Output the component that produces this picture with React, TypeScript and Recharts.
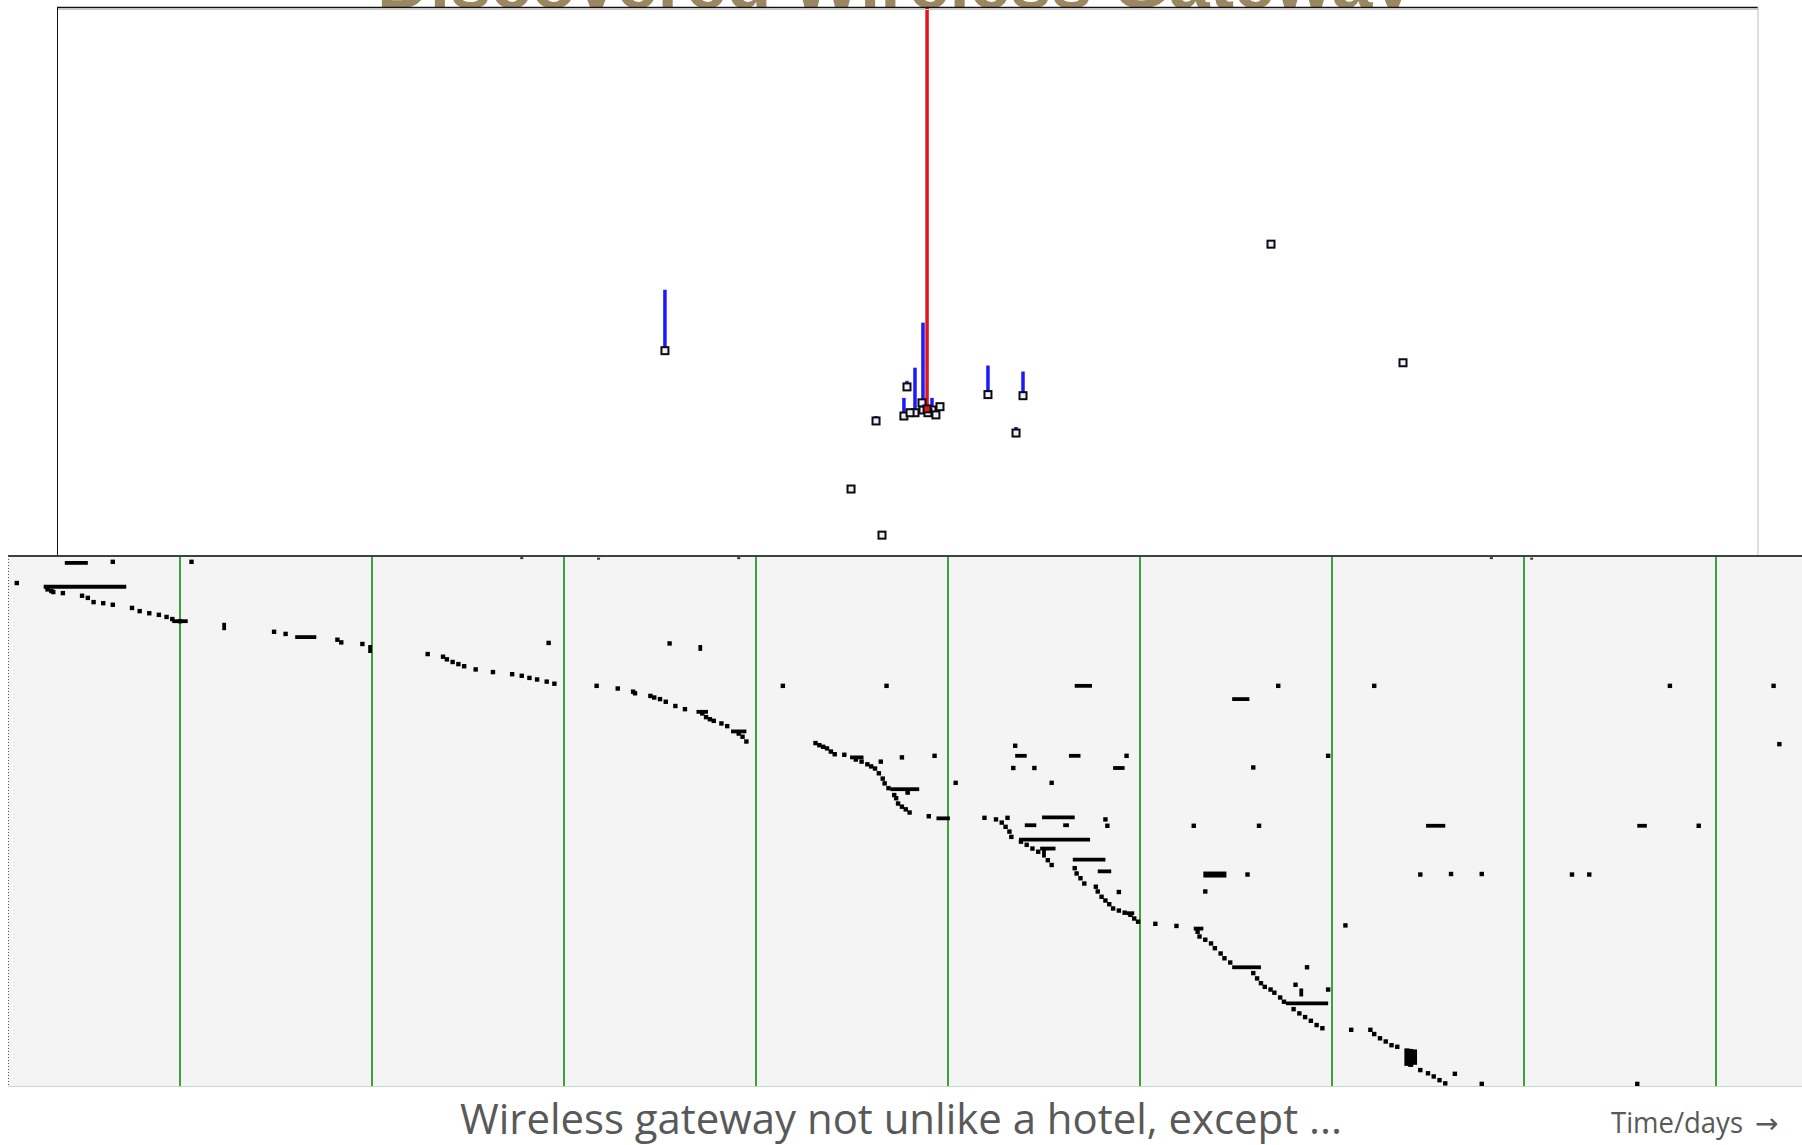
import React from 'react';
import { ScatterChart, Scatter, XAxis, YAxis, ErrorBar, ReferenceLine } from 'recharts';

const PAGE_W = 1802;
const PAGE_H = 1145;

// ---------- upper panel: where the gateways were discovered (map units 0-100) ----------
// x, y = location; reach = length of the signal stem drawn upwards from the site
const gatewaySites = [
  { x: 35.74, y: 37.4, reach: 11.1 },
  { x: 46.68, y: 12.2, reach: 0 },
  { x: 48.5, y: 3.8, reach: 0 },
  { x: 48.15, y: 24.6, reach: 0.9 },
  { x: 49.79, y: 25.5, reach: 3.3 },
  { x: 49.97, y: 30.8, reach: 1.1 },
  { x: 50.44, y: 26.1, reach: 8.2 },
  { x: 50.91, y: 26.6, reach: 15.9 },
  { x: 50.85, y: 27.9, reach: 0 },
  { x: 51.44, y: 26.6, reach: 2.2 },
  { x: 50.15, y: 26.1, reach: 0 },
  { x: 51.2, y: 26.1, reach: 0 },
  { x: 51.67, y: 25.7, reach: 0 },
  { x: 51.91, y: 27.2, reach: 0 },
  { x: 54.73, y: 29.4, reach: 5.3 },
  { x: 56.79, y: 29.2, reach: 4.4 },
  { x: 56.38, y: 22.4, reach: 1.1 },
  { x: 71.37, y: 56.8, reach: 0 },
  { x: 79.13, y: 35.2, reach: 0 },
];
const anchorGateway = [{ x: 51.15, y: 26.8, reach: 73.2 }];

// ---------- lower panel: client sightings over time ----------
const dayMarks = [1, 2, 3, 4, 5, 6, 7, 8, 9];

// [day, client] — faint marks along the top edge
const edgeMarks: [number, number][] = [
  [2.78, 0.4], [3.18, 0.5], [3.91, 0.4], [7.83, 0.4], [8.04, 0.5],
];

// [day, client] — single sightings
const sightings: [number, number][] = [
  // day 0-1
  [0.65, 1.1], [0.15, 5.1], [1.06, 1.1], [0.31, 6.3], [0.33, 6.6],
  [0.34, 6.8], [0.39, 7.0], [0.49, 7.5], [0.52, 7.9], [0.55, 8.7], [0.6, 8.9],
  [0.65, 9.2], [0.75, 9.8], [0.79, 10.4], [0.84, 10.8], [0.89, 11.1], [0.93, 11.5],
  [0.96, 11.9], [1.0, 12.3],
  // day 1-2
  [1.49, 14.3], [1.55, 14.7], [1.82, 15.8], [1.84, 16.3], [1.95, 16.6],
  // day 2-3
  [2.29, 18.5], [2.37, 19.0], [2.39, 19.5], [2.42, 20.0], [2.45, 20.4], [2.48, 20.8],
  [2.54, 21.4], [2.63, 21.9], [2.73, 22.3], [2.78, 22.6], [2.82, 23.0], [2.86, 23.3],
  [2.91, 23.7], [2.95, 24.1], [2.92, 16.4],
  // day 3-4
  [3.17, 24.5], [3.28, 25.0], [3.36, 25.6], [3.37, 25.9], [3.45, 26.4], [3.47, 26.7],
  [3.5, 27.0], [3.53, 27.5], [3.58, 28.3], [3.63, 28.9], [3.72, 29.7], [3.74, 30.4],
  [3.76, 30.8], [3.78, 31.1], [3.82, 31.6], [3.85, 32.1], [3.91, 33.5], [3.93, 34.1],
  [3.95, 35.0], [3.55, 16.5],
  // day 4-5
  [4.14, 24.5], [4.68, 24.5], [4.31, 35.3], [4.33, 35.7], [4.35, 36.0], [4.37, 36.3],
  [4.39, 36.9], [4.41, 37.4], [4.46, 37.5], [4.52, 38.4], [4.55, 38.8], [4.58, 39.3],
  [4.6, 39.7], [4.62, 40.1], [4.64, 41.0], [4.66, 42.0], [4.67, 42.9], [4.69, 43.8],
  [4.72, 45.1], [4.73, 45.7], [4.74, 46.7], [4.76, 47.3], [4.78, 47.8], [4.8, 48.4],
  [4.9, 49.1], [4.76, 38.0], [4.93, 37.7], [4.65, 38.8], [4.79, 44.6],
  // day 5-6
  [5.04, 42.8], [5.35, 35.8], [5.93, 37.7], [5.34, 40.0], [5.45, 40.0], [5.54, 42.8],
  [5.19, 49.4], [5.31, 49.4], [5.82, 49.7], [5.83, 50.9], [5.89, 63.4],
  [5.25, 49.7], [5.28, 50.3], [5.3, 51.1], [5.32, 52.0], [5.33, 53.0], [5.38, 53.9],
  [5.41, 54.5], [5.44, 55.2], [5.47, 55.8], [5.52, 57.4], [5.54, 58.3],
  [5.66, 58.9], [5.67, 59.9], [5.69, 60.8], [5.71, 61.8], [5.77, 62.4], [5.78, 63.3],
  [5.8, 64.3], [5.82, 65.0], [5.84, 65.7], [5.86, 66.5], [5.89, 66.9], [5.92, 67.3],
  [5.95, 67.7], [5.97, 68.4], [5.99, 69.0],
  // day 6-7
  [6.08, 69.4], [6.19, 69.8], [6.28, 50.9], [6.62, 50.9], [6.56, 60.1], [6.34, 63.3],
  [6.98, 37.7], [6.59, 39.9], [6.87, 77.6], [6.81, 80.9], [6.98, 81.8], [6.72, 24.5],
  [6.3, 70.9], [6.31, 71.8], [6.34, 72.4], [6.37, 73.1], [6.39, 74.0], [6.42, 75.0],
  [6.44, 75.9], [6.47, 76.7], [6.59, 78.7], [6.61, 79.7], [6.63, 80.6], [6.65, 81.3],
  [6.68, 81.8], [6.7, 82.4], [6.73, 83.3], [6.75, 84.1], [6.8, 85.5], [6.83, 86.3],
  [6.86, 87.0], [6.89, 87.7], [6.92, 88.5], [6.95, 89.1],
  // day 7 onwards
  [7.07, 69.7], [7.1, 89.4], [7.2, 89.4], [7.22, 90.2], [7.25, 91.0], [7.28, 91.6],
  [7.31, 92.3], [7.34, 92.6], [7.46, 97.0], [7.5, 97.6], [7.53, 98.2], [7.56, 98.9],
  [7.59, 99.5], [7.64, 97.7], [7.78, 99.6], [8.59, 99.6], [7.22, 24.5], [8.76, 24.5],
  [9.3, 24.5], [9.33, 35.5], [8.91, 50.9], [7.46, 60.1], [7.62, 60.0], [7.78, 60.0],
  [8.25, 60.1], [8.34, 60.1],
];

// [fromDay, toDay, client] — continuous stays
const stays: [number, number, number][] = [
  [0.4, 0.52, 1.3], [0.29, 0.72, 5.8], [0.96, 1.04, 12.3], [1.6, 1.71, 15.3],
  [3.69, 3.75, 29.4], [3.87, 3.95, 33.1], [4.49, 4.56, 38.0], [4.7, 4.85, 44.0],
  [4.94, 5.01, 49.5], [5.66, 5.75, 24.5], [5.35, 5.41, 37.7], [5.63, 5.69, 37.7],
  [5.86, 5.92, 40.0], [5.49, 5.66, 49.3], [5.4, 5.46, 50.8], [5.6, 5.63, 50.8],
  [5.37, 5.74, 53.5], [5.48, 5.56, 55.2], [5.65, 5.82, 57.3], [5.78, 5.85, 59.5],
  [5.93, 5.97, 67.4], [6.48, 6.57, 27.0], [6.48, 6.63, 77.6], [6.76, 6.98, 84.4],
  [6.28, 6.33, 70.3], [7.49, 7.59, 50.9], [8.59, 8.64, 50.9],
];

// [fromDay, toDay, client] — stays seen on two adjacent clients
const heavyStays: [number, number, number][] = [
  [6.33, 6.45, 60.1],
];

// [day, fromClient, toClient] — bursts spanning several clients
const bursts: [number, number, number][] = [
  [1.23, 12.6, 14.0], [1.99, 16.8, 18.3], [3.71, 16.8, 17.9], [5.5, 55.4, 56.9],
  [6.84, 81.6, 83.1], [4.79, 44.3, 45.0],
];
const crowdBursts: [number, number, number][] = [
  [7.39, 92.9, 96.2], [7.41, 93.0, 96.4], [7.43, 93.1, 96.0],
];

const sightingRows = sightings.map(([day, client]) => ({ day, client }));
const edgeRows = edgeMarks.map(([day, client]) => ({ day, client }));
const stayRows = stays.map(([from, to, client]) => ({ day: from, client, span: [0, to - from] }));
const heavyRows = heavyStays.map(([from, to, client]) => ({ day: from, client, span: [0, to - from] }));
const burstRows = bursts.map(([day, from, to]) => ({ day, client: from, span: [0, to - from] }));
const crowdRows = crowdBursts.map(([day, from, to]) => ({ day, client: from, span: [0, to - from] }));

// ---------- shapes ----------
const siteSquare = (p: any) => (
  <rect x={p.cx - 3.5} y={p.cy - 3.5} width={7} height={7} fill="#eef0ff" stroke="#0c0c0c" strokeWidth={2} />
);
const anchorSquare = (p: any) => (
  <rect x={p.cx - 3.5} y={p.cy - 3.5} width={7} height={7} fill="#e3151b" stroke="#0c0c0c" strokeWidth={2} />
);
const blackDot = (p: any) => <rect x={p.cx - 2.2} y={p.cy - 2.2} width={4.4} height={4.4} fill="#000000" />;
const edgeDot = (p: any) => <rect x={p.cx - 1.5} y={p.cy - 1} width={3} height={2} fill="#333333" />;
const noMark = () => <g />;

const TOP = { left: 57, top: 7, width: 1701, height: 549 };
const BOTTOM = { left: 8, top: 556, width: 1794, height: 530 };

const TopPanel = () => (
  <ScatterChart width={TOP.width} height={TOP.height} margin={{ top: 0, right: 0, bottom: 0, left: 0 }}>
    <XAxis type="number" dataKey="x" domain={[0, 100]} allowDataOverflow hide />
    <YAxis type="number" dataKey="y" domain={[0, 100]} allowDataOverflow hide />
    <Scatter data={gatewaySites} shape={siteSquare} isAnimationActive={false}>
      <ErrorBar dataKey={(d: any) => [0, d.reach]} direction="y" width={0} stroke="#1a1aff" strokeWidth={3.5} />
    </Scatter>
    <Scatter data={anchorGateway} shape={anchorSquare} isAnimationActive={false}>
      <ErrorBar dataKey={(d: any) => [0, d.reach]} direction="y" width={0} stroke="#e3151b" strokeWidth={3.5} />
    </Scatter>
  </ScatterChart>
);

const BottomPanel = () => (
  <ScatterChart width={BOTTOM.width} height={BOTTOM.height} margin={{ top: 0, right: 0, bottom: 0, left: 0 }}>
    <XAxis type="number" dataKey="day" domain={[0.1042, 9.448]} allowDataOverflow hide />
    <YAxis type="number" dataKey="client" domain={[0, 100]} reversed allowDataOverflow hide />
    {dayMarks.map((d) => (
      <ReferenceLine key={d} x={d} stroke="#3f9f3f" strokeWidth={2} />
    ))}
    <Scatter data={edgeRows} shape={edgeDot} isAnimationActive={false} />
    <Scatter data={stayRows} shape={noMark} isAnimationActive={false}>
      <ErrorBar dataKey="span" direction="x" width={0} stroke="#000000" strokeWidth={3.8} />
    </Scatter>
    <Scatter data={heavyRows} shape={noMark} isAnimationActive={false}>
      <ErrorBar dataKey="span" direction="x" width={0} stroke="#000000" strokeWidth={6} />
    </Scatter>
    <Scatter data={burstRows} shape={noMark} isAnimationActive={false}>
      <ErrorBar dataKey="span" direction="y" width={0} stroke="#000000" strokeWidth={3.8} />
    </Scatter>
    <Scatter data={crowdRows} shape={noMark} isAnimationActive={false}>
      <ErrorBar dataKey="span" direction="y" width={0} stroke="#000000" strokeWidth={5} />
    </Scatter>
    <Scatter data={sightingRows} shape={blackDot} isAnimationActive={false} />
  </ScatterChart>
);

export default function App() {
  return (
    <div
      style={{
        position: 'absolute',
        left: 0,
        top: 0,
        width: PAGE_W,
        height: PAGE_H,
        background: '#ffffff',
        overflow: 'hidden',
      }}
    >
      {/* slide heading, mostly hidden behind the upper panel */}
      <svg width={PAGE_W} height={PAGE_H} style={{ position: 'absolute', left: 0, top: 0 }}>
        <text
          x={895}
          y={8}
          textAnchor="middle"
          fontFamily="'Liberation Sans', Arial, sans-serif"
          fontWeight="bold"
          fontSize={70}
          fill="#9a8660"
          textLength={1036}
          lengthAdjust="spacingAndGlyphs"
        >
          Discovered Wireless Gateway
        </text>
      </svg>

      <div
        style={{
          position: 'absolute',
          left: TOP.left,
          top: TOP.top,
          width: TOP.width,
          height: TOP.height,
          background: '#ffffff',
        }}
      >
        <TopPanel />
      </div>

      <div
        style={{
          position: 'absolute',
          left: BOTTOM.left,
          top: BOTTOM.top,
          width: BOTTOM.width,
          height: BOTTOM.height,
          background: '#f4f4f4',
        }}
      >
        <BottomPanel />
      </div>

      {/* panel frames and captions */}
      <svg width={PAGE_W} height={PAGE_H} style={{ position: 'absolute', left: 0, top: 0, pointerEvents: 'none' }}>
        <line x1={TOP.left} y1={7.5} x2={TOP.left + TOP.width} y2={7.5} stroke="#111111" strokeWidth={1.5} />
        <line x1={TOP.left} y1={9.5} x2={TOP.left + TOP.width} y2={9.5} stroke="#c8c8c8" strokeWidth={1} />
        <line x1={TOP.left + 0.5} y1={7} x2={TOP.left + 0.5} y2={556} stroke="#111111" strokeWidth={1} />
        <line x1={TOP.left + TOP.width} y1={7} x2={TOP.left + TOP.width} y2={556} stroke="#bdbdbd" strokeWidth={1} />
        <line x1={BOTTOM.left} y1={556} x2={PAGE_W} y2={556} stroke="#404040" strokeWidth={2} />
        <line x1={BOTTOM.left + 0.5} y1={556} x2={BOTTOM.left + 0.5} y2={1086} stroke="#555555" strokeWidth={1} strokeDasharray="1 2" />
        <line x1={BOTTOM.left} y1={1086.5} x2={PAGE_W} y2={1086.5} stroke="#cfcfcf" strokeWidth={1} />
        <text
          x={901}
          y={1134}
          textAnchor="middle"
          fontFamily="'Open Sans', sans-serif"
          fontSize={42}
          fill="#595959"
          textLength={882}
          lengthAdjust="spacingAndGlyphs"
        >
          Wireless gateway not unlike a hotel, except ...
        </text>
        <text
          x={1611}
          y={1133}
          fontFamily="'Open Sans', sans-serif"
          fontSize={30}
          fill="#595959"
          textLength={132}
          lengthAdjust="spacingAndGlyphs"
        >
          Time/days
        </text>
        <text x={1755} y={1133} fontFamily="'DejaVu Sans', sans-serif" fontSize={28} fill="#595959">
          →
        </text>
      </svg>
    </div>
  );
}
